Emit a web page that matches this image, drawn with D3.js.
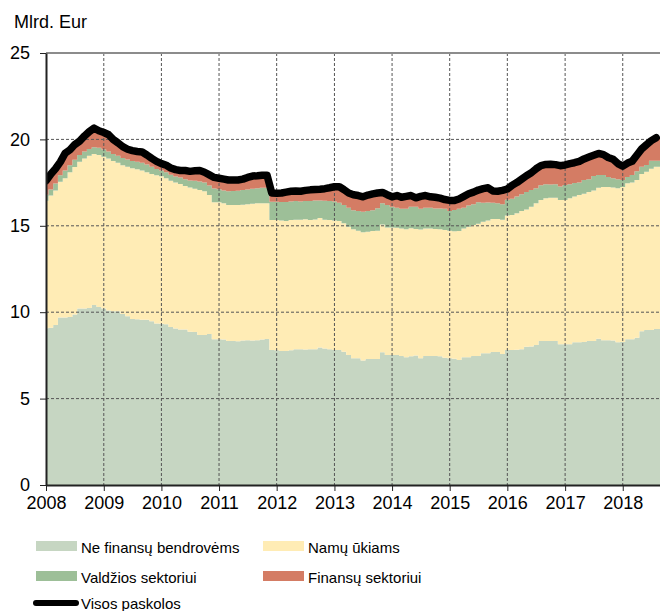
<!DOCTYPE html>
<html>
<head>
<meta charset="utf-8">
<script src="https://cdn.jsdelivr.net/npm/d3@7"></script>
<style>
  body { margin: 0; background: #fff; }
  text { font-family: "Liberation Sans", Arial, sans-serif; fill: #000; }
</style>
</head>
<body>
<div id="chart"></div>
<script>
// monthly values, Jan 2008 - Aug 2018, mlrd. Eur
var nfc = [
  9.07,9.10,9.26,9.70,9.70,9.72,9.87,10.22,10.22,10.25,
  10.42,10.30,10.22,10.10,10.05,10.05,9.90,9.76,9.60,9.59,
  9.57,9.57,9.47,9.35,9.33,9.30,9.14,9.05,9.00,9.00,
  8.87,8.85,8.68,8.68,8.74,8.43,8.43,8.42,8.33,8.33,
  8.32,8.36,8.37,8.36,8.37,8.42,8.45,7.81,7.80,7.75,
  7.75,7.80,7.85,7.85,7.84,7.85,7.86,7.95,7.90,7.85,
  7.81,7.81,7.71,7.52,7.33,7.33,7.20,7.29,7.29,7.29,
  7.68,7.52,7.52,7.52,7.46,7.39,7.45,7.50,7.33,7.46,
  7.46,7.46,7.45,7.37,7.34,7.31,7.23,7.39,7.40,7.46,
  7.47,7.62,7.63,7.70,7.70,7.58,7.81,7.81,7.82,7.85,
  8.00,8.02,8.10,8.33,8.33,8.33,8.33,8.14,8.14,8.15,
  8.26,8.26,8.27,8.33,8.34,8.47,8.37,8.37,8.36,8.26,
  8.27,8.43,8.44,8.52,8.90,8.97,8.97,9.03
];
var households = [
  7.38,7.65,7.79,7.85,8.05,8.38,8.53,8.48,8.68,8.80,
  8.73,8.80,8.78,8.80,8.70,8.60,8.60,8.66,8.73,8.68,
  8.63,8.53,8.53,8.58,8.54,8.45,8.46,8.45,8.42,8.30,
  8.35,8.30,8.39,8.32,8.04,7.93,7.93,7.88,7.87,7.87,
  7.88,7.86,7.88,7.91,7.93,7.88,7.85,7.53,7.54,7.55,
  7.53,7.53,7.50,7.50,7.54,7.48,7.50,7.50,7.45,7.49,
  7.49,7.47,7.44,7.43,7.47,7.39,7.42,7.37,7.41,7.43,
  7.40,7.38,7.38,7.36,7.39,7.41,7.41,7.32,7.45,7.39,
  7.38,7.36,7.35,7.38,7.38,7.37,7.47,7.46,7.55,7.59,
  7.65,7.62,7.67,7.69,7.70,7.77,7.78,7.81,7.90,8.00,
  7.95,8.08,8.20,8.17,8.27,8.29,8.29,8.36,8.36,8.45,
  8.44,8.52,8.58,8.62,8.71,8.73,8.88,8.88,8.86,8.92,
  8.98,9.03,9.06,9.13,9.10,9.16,9.33,9.39
];
var government = [
  0.35,0.35,0.40,0.38,0.45,0.40,0.42,0.40,0.40,0.40,
  0.40,0.42,0.42,0.40,0.40,0.40,0.42,0.42,0.42,0.43,
  0.45,0.45,0.42,0.35,0.33,0.35,0.35,0.35,0.38,0.40,
  0.40,0.45,0.50,0.50,0.55,0.80,0.75,0.75,0.80,0.82,
  0.83,0.85,0.85,0.88,0.88,0.90,0.90,1.05,1.05,1.08,
  1.10,1.08,1.08,1.05,1.05,1.10,1.10,1.02,1.10,1.10,
  1.10,1.05,1.05,1.10,1.10,1.13,1.20,1.20,1.20,1.30,
  1.22,1.30,1.20,1.17,1.13,1.18,1.24,1.28,1.20,1.20,
  1.21,1.18,1.20,1.23,1.14,1.24,1.28,1.20,1.22,1.19,
  1.24,1.10,1.05,0.95,0.90,0.90,0.92,0.95,0.98,0.97,
  1.00,0.97,0.87,0.85,0.80,0.77,0.78,0.77,0.86,0.80,
  0.78,0.72,0.80,0.75,0.83,0.74,0.69,0.57,0.53,0.52,
  0.40,0.36,0.44,0.50,0.42,0.39,0.47,0.35
];
var financial = [
  0.80,0.90,0.85,0.77,1.00,0.90,0.88,0.80,0.90,1.00,
  1.10,0.98,0.98,0.97,0.85,0.75,0.66,0.59,0.60,0.60,
  0.62,0.55,0.48,0.45,0.40,0.40,0.40,0.40,0.40,0.50,
  0.53,0.58,0.63,0.60,0.62,0.64,0.64,0.65,0.65,0.63,
  0.62,0.63,0.70,0.73,0.72,0.73,0.73,0.51,0.49,0.52,
  0.57,0.59,0.59,0.60,0.62,0.65,0.64,0.65,0.70,0.76,
  0.86,0.93,0.90,0.85,0.90,0.90,0.86,0.92,0.95,0.88,
  0.63,0.60,0.58,0.70,0.67,0.72,0.65,0.52,0.72,0.70,
  0.63,0.65,0.60,0.54,0.61,0.55,0.57,0.65,0.68,0.71,
  0.71,0.81,0.85,0.68,0.70,0.80,0.62,0.78,0.80,0.88,
  0.95,1.00,1.13,1.13,1.15,1.17,1.14,1.21,1.16,1.20,
  1.17,1.23,1.22,1.28,1.20,1.25,1.18,1.13,1.10,0.90,
  0.80,0.81,0.79,0.95,1.03,1.18,1.16,1.33
];
var yearTicks = [2008,2009,2010,2011,2012,2013,2014,2015,2016,2017,2018];
var yTicks = [0,5,10,15,20,25];
var seriesNames = ['Ne finansų bendrovėms','Namų ūkiams','Valdžios sektoriui','Finansų sektoriui','Visos paskolos'];
var colors = ['#c6d6c2','#ffecb5','#9dbf98','#d47c64','#000000'];

var months = d3.timeMonths(new Date(2008,0,1), new Date(2018,8,1));
var endDate = new Date(2018,7,25);

var margin = { top: 53, right: 0, bottom: 126, left: 46 },
    width = 660 - margin.left - margin.right,
    height = 611 - margin.top - margin.bottom;

var svgRoot = d3.select('#chart').append('svg')
    .attr('width', 660)
    .attr('height', 611);

var svg = svgRoot.append('g')
    .attr('transform', 'translate(' + margin.left + ',' + margin.top + ')');

svgRoot.append('text')
    .attr('x', 14).attr('y', 28)
    .style('font-size', '18px')
    .text('Mlrd. Eur');

var keys = ['nfc','hh','gov','fin'];
var rows = months.map(function(d, i) {
  return { date: d, nfc: nfc[i], hh: households[i], gov: government[i], fin: financial[i] };
});
// last step reaches the right edge of the plot
var areaRows = rows.concat([Object.assign({}, rows[rows.length - 1], { date: endDate })]);

var x = d3.scaleTime().domain([new Date(2008,0,1), endDate]).range([0, width]);
var y = d3.scaleLinear().domain([0, 25]).range([height, 0]);

svg.append('clipPath').attr('id', 'clip')
  .append('rect').attr('x', 0).attr('y', -10).attr('width', width).attr('height', height + 10);

var stacked = d3.stack().keys(keys)(areaRows);

var area = d3.area()
    .curve(d3.curveStep)
    .x(function(d) { return x(d.data.date); })
    .y0(function(d) { return y(d[0]); })
    .y1(function(d) { return y(d[1]); });

svg.append('g').attr('clip-path', 'url(#clip)')
  .selectAll('path')
  .data(stacked)
  .enter().append('path')
    .attr('d', area)
    .attr('fill', function(d, i) { return colors[i]; });

// grid
svg.append('g').selectAll('line')
  .data(yTicks.filter(function(v) { return v > 0 && v < 25; }))
  .enter().append('line')
    .attr('x1', 0).attr('x2', width)
    .attr('y1', function(d) { return y(d); }).attr('y2', function(d) { return y(d); })
    .attr('stroke', '#555').attr('stroke-width', 1).attr('stroke-dasharray', '3,2');

svg.append('g').selectAll('line')
  .data(yearTicks.slice(1))
  .enter().append('line')
    .attr('x1', function(d) { return x(new Date(d,0,1)); })
    .attr('x2', function(d) { return x(new Date(d,0,1)); })
    .attr('y1', 0).attr('y2', height)
    .attr('stroke', '#555').attr('stroke-width', 1).attr('stroke-dasharray', '3,2');

svg.append('line')
    .attr('x1', 0).attr('x2', width).attr('y1', 0).attr('y2', 0)
    .attr('stroke', '#8c8c8c').attr('stroke-width', 2);

// total line
var line = d3.line()
    .x(function(d) { return x(d.date); })
    .y(function(d) { return y(d.nfc + d.hh + d.gov + d.fin); });

svg.append('path')
    .datum(rows)
    .attr('clip-path', 'url(#clip)')
    .attr('d', line)
    .attr('fill', 'none')
    .attr('stroke', '#000')
    .attr('stroke-width', 7.5)
    .attr('stroke-linejoin', 'round')
    .attr('stroke-linecap', 'round');

// axes
var yAxis = svg.append('g')
    .call(d3.axisLeft(y).tickValues(yTicks).tickSize(6).tickSizeOuter(0).tickPadding(10));
yAxis.select('.domain').attr('stroke', '#222').attr('stroke-width', 2);
yAxis.selectAll('.tick line').attr('stroke', '#222');
yAxis.selectAll('text').style('font-size', '18px').attr('fill', '#000');

var xAxis = svg.append('g')
    .attr('transform', 'translate(0,' + height + ')')
    .call(d3.axisBottom(x)
      .tickValues(yearTicks.map(function(v) { return new Date(v,0,1); }))
      .tickFormat(d3.timeFormat('%Y'))
      .tickSize(6).tickSizeOuter(0).tickPadding(5));
xAxis.select('.domain').attr('stroke', '#222').attr('stroke-width', 2);
xAxis.selectAll('.tick line').attr('stroke', '#222');
xAxis.selectAll('text').style('font-size', '18px').attr('fill', '#000');

// legend
var legendPos = [[36,541],[263,541],[36,571],[263,571],[36,597]];
var legend = svgRoot.append('g');
seriesNames.forEach(function(name, i) {
  var p = legendPos[i];
  if (i < 4) {
    legend.append('rect')
      .attr('x', p[0]).attr('y', p[1])
      .attr('width', 41).attr('height', 10)
      .attr('fill', colors[i]);
  } else {
    legend.append('line')
      .attr('x1', p[0]).attr('x2', p[0] + 40)
      .attr('y1', p[1] + 6).attr('y2', p[1] + 6)
      .attr('stroke', colors[i]).attr('stroke-width', 6)
      .attr('stroke-linecap', 'round');
  }
  legend.append('text')
    .attr('x', p[0] + 45).attr('y', p[1] + 12)
    .style('font-size', '15px')
    .text(name);
});
</script>
</body>
</html>
